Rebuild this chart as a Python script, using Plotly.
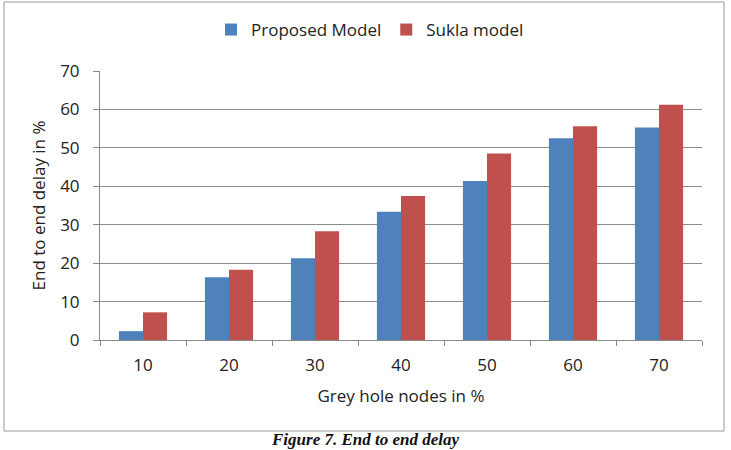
import plotly.graph_objects as go

categories = ["10", "20", "30", "40", "50", "60", "70"]
proposed = [2.3, 16.3, 21.3, 33.4, 41.4, 52.5, 55.3]
sukla = [7.2, 18.3, 28.3, 37.5, 48.5, 55.6, 61.2]

FONT = "Open Sans"
FS = 17

fig = go.Figure()
fig.add_trace(go.Bar(x=categories, y=proposed, name="Proposed Model",
                     marker=dict(color="#4F81BD", line=dict(width=0))))
fig.add_trace(go.Bar(x=categories, y=sukla, name="Sukla model",
                     marker=dict(color="#C0504D", line=dict(width=0))))

W, H = 731, 450
L, R, T, B = 100, 29, 71, 110
pw, ph = W - L - R, H - T - B

def px(x):
    return (x - L) / pw

def py(y):
    return (H - B - y) / ph

fig.update_layout(
    width=W, height=H,
    margin=dict(l=L, r=R, t=T, b=B),
    paper_bgcolor="white", plot_bgcolor="white",
    barmode="group", bargap=0.44, bargroupgap=0,
    font=dict(family=FONT, size=FS, color="#222"),
    showlegend=True,
    legend=dict(orientation="h", x=px(370), xanchor="center", y=py(30), yanchor="middle",
                font=dict(family=FONT, size=FS, color="#222"),
                itemwidth=30, traceorder="normal", bgcolor="rgba(0,0,0,0)"),
    xaxis=dict(type="category", showgrid=False, showline=True, linecolor="#888",
               linewidth=1, ticks="outside", tickson="boundaries", ticklen=5,
               tickcolor="#888", ticklabelstandoff=10,
               tickfont=dict(family=FONT, size=FS, color="#222"),
               title=dict(text="Grey hole nodes in %", standoff=14,
                          font=dict(family=FONT, size=FS, color="#222"))),
    yaxis=dict(range=[0, 70], dtick=10, showgrid=True, gridcolor="#8c8c8c", gridwidth=1,
               showline=True, linecolor="#888", linewidth=1, ticks="outside", ticklen=6,
               tickcolor="#888", zeroline=False, ticklabelstandoff=10,
               tickfont=dict(family=FONT, size=FS, color="#222"),
               title=dict(text="End to end delay in %", standoff=10,
                          font=dict(family=FONT, size=FS, color="#222"))),
    shapes=[dict(type="rect", xref="paper", yref="paper",
                 x0=px(4), x1=px(724), y0=py(2), y1=py(431),
                 line=dict(color="#999", width=1), fillcolor="rgba(0,0,0,0)", layer="below")],
    annotations=[dict(text="<b><i>Figure 7. End to end delay</i></b>", xref="paper", yref="paper",
                      x=px(365), y=py(440), xanchor="center", yanchor="middle", showarrow=False,
                      font=dict(family="Liberation Serif", size=17, color="#111"))],
)

fig.write_html("out.html")
